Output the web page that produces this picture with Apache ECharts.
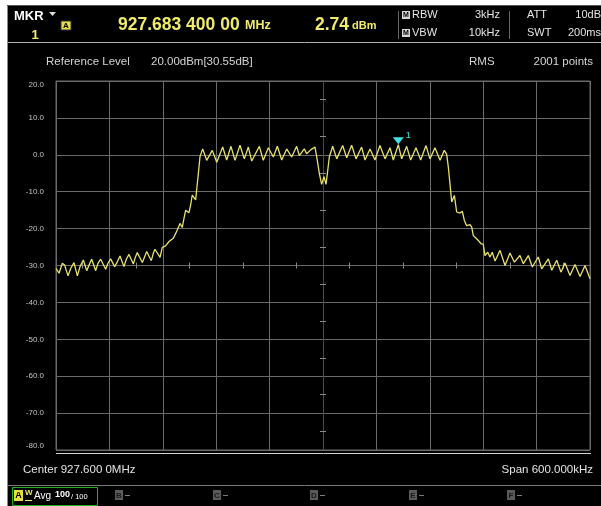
<!DOCTYPE html>
<html>
<head>
<meta charset="utf-8">
<script src="https://cdn.jsdelivr.net/npm/echarts@6/dist/echarts.min.js"></script>
<style>
  html, body { margin: 0; padding: 0; background: #fff; }
  #chart { width: 601px; height: 506px; }
</style>
</head>
<body>
<div id="chart"></div>
<script>
// trace: [offset from centre in kHz, level in dBm]
const lowerSkirt = [
  [-300, -30.8], [-296.6, -32.1], [-292.9, -29.4], [-290.3, -29.9], [-286.5, -32.8], [-283.5, -30.8],
  [-279.8, -29.2], [-276.0, -32.8], [-273.0, -30.3], [-269.3, -28.5], [-265.5, -31.4], [-262.9, -29.9],
  [-259.9, -28.3], [-255.4, -31.4], [-252.8, -29.4], [-249.8, -28.3], [-244.2, -31.0], [-241.6, -29.4],
  [-238.6, -28.2], [-234.1, -30.3], [-231.1, -29.0], [-228.1, -27.4], [-223.6, -30.3], [-221.0, -28.3],
  [-218.0, -27.0], [-213.1, -29.6], [-210.9, -27.8], [-208.7, -26.5], [-203.0, -29.2], [-200.4, -27.6],
  [-198.1, -26.2], [-192.9, -28.7], [-190.7, -26.7], [-188.8, -25.6], [-183.1, -27.8], [-180.6, -25.1],
  [-176.8, -24.7], [-173.0, -23.5], [-171.1, -24.0], [-168.2, -22.6], [-165.5, -21.3], [-162.9, -19.9],
  [-160.7, -18.6], [-158.1, -19.7], [-156.2, -17.2], [-154.3, -15.0], [-152.5, -14.5], [-150.6, -15.7],
  [-148.7, -13.6], [-146.9, -10.9], [-145.0, -10.4], [-143.1, -12.2], [-140.4, -5.9], [-138.2, -0.5]
];
const passBand = [
  [-135.2, 1.6], [-130.7, -1.5], [-124.4, 1.2], [-119.4, -2.0], [-112.7, 2.1], [-108.2, -1.4],
  [-103.4, 2.3], [-98.9, -1.5], [-93.3, 2.6], [-88.4, -1.1], [-83.9, 2.1], [-80.1, -1.7],
  [-71.5, 2.3], [-67.1, -1.5], [-61.4, 1.9], [-55.8, -0.6], [-51.3, 2.3], [-46.4, -1.4],
  [-40.8, 1.6], [-35.2, -0.6], [-29.6, 2.3], [-26.6, -0.2], [-21.0, 1.6], [-18.4, 0.3],
  [-13.5, 1.4], [-9.0, 2.1], [-6.4, -1.5], [-4.1, -5.1], [-1.5, -8.0], [1.1, -5.9],
  [3.4, -8.0], [4.9, -5.1], [7.1, -0.6], [10.9, 2.3], [15.4, -1.1], [22.1, 2.5],
  [26.6, -0.8], [32.2, 2.6], [37.1, -1.1], [43.4, 2.1], [47.2, -1.4], [52.8, 1.6],
  [58.4, -1.4], [64.0, 2.5], [69.7, -1.1], [75.3, 1.9], [79.0, -1.4], [84.6, 2.74],
  [88.4, -1.1], [94.0, 2.3], [98.5, -1.4], [104.5, 1.9], [109.8, -1.4], [115.7, 2.5],
  [120.2, -1.1], [125.8, 1.9], [131.5, -1.5], [136.3, 1.2], [139.0, 0.1]
];
const upperSkirt = [
  [140.8, -3.3], [142.7, -7.9], [144.6, -12.8], [147.6, -11.0], [150.2, -15.5], [153.9, -15.8],
  [156.5, -15.3], [158.8, -17.8], [161.4, -19.2], [165.2, -18.9], [167.1, -19.6], [168.9, -21.9],
  [171.5, -22.5], [174.5, -23.2], [177.5, -24.1], [180.1, -24.3], [182.0, -27.3], [185.1, -26.4],
  [187.6, -27.7], [190.2, -26.4], [193.3, -28.8], [198.9, -25.9], [204.5, -30.0], [210.1, -26.6],
  [215.0, -29.1], [221.3, -27.3], [225.1, -29.5], [230.7, -27.3], [235.2, -30.4], [241.9, -27.7],
  [245.7, -30.9], [253.2, -28.2], [257.0, -31.3], [262.6, -28.6], [267.4, -31.8], [271.9, -29.3],
  [277.5, -32.7], [283.1, -29.7], [288.8, -33.0], [294.4, -30.0], [300, -33.6]
];
const marker1 = [84.6, 2.74];
// ticks on the two centre lines sit half way between grid lines
const centreTicks = [-4.5, -3.5, -2.5, -1.5, -0.5, 0.5, 1.5, 2.5, 3.5, 4.5];

const FONT = 'Liberation Sans, Arial, sans-serif';
const YEL = '#f0ec6a';
const TXT = '#e4e4e4';

function txt(x, y, s, size, fill, opts) {
  opts = opts || {};
  return {
    type: 'text', x: x, y: y, silent: true,
    style: {
      text: s, fill: fill,
      font: (opts.bold ? 'bold ' : '') + size + 'px ' + FONT,
      align: opts.align || 'left', verticalAlign: 'middle'
    }
  };
}
function ln(x1, y1, x2, y2, color) {
  return {type: 'line', silent: true, shape: {x1: x1, y1: y1, x2: x2, y2: y2}, style: {stroke: color, lineWidth: 1}};
}
function box(x, y, w, h, fill, stroke) {
  return {type: 'rect', silent: true, shape: {x: x, y: y, width: w, height: h}, style: {fill: fill, stroke: stroke || null, lineWidth: 1}};
}
function letterBox(x, y, letter, fill, color) {
  return [box(x, y, 8, 10, fill), txt(x + 4, y + 5.5, letter, 8, color, {bold: true, align: 'center'})];
}

const chrome = [
  box(0, 0, 601, 5, '#fff'),
  box(0, 0, 7, 506, '#fff'),
  ln(7.5, 5, 7.5, 506, '#8a8a8a'),
  ln(7, 5.5, 601, 5.5, '#555'),
  ln(8, 42.5, 601, 42.5, '#b0b0b0'),
  // marker block
  txt(14, 16, 'MKR', 13, '#fff', {bold: true}),
  {type: 'polygon', silent: true, shape: {points: [[49, 12], [56, 12], [52.5, 16]]}, style: {fill: '#ddd'}},
  txt(35, 35, '1', 13, YEL, {bold: true, align: 'center'}),
  box(61, 21, 10, 9, '#e8e040', '#333'),
  txt(66, 25.8, 'A', 8, '#000', {bold: true, align: 'center'}),
  txt(118, 25, '927.683 400 00', 17.5, YEL, {bold: true}),
  txt(245, 26, 'MHz', 12.5, YEL, {bold: true}),
  txt(315, 25, '2.74', 17.5, YEL, {bold: true}),
  txt(352, 26, 'dBm', 11, YEL, {bold: true}),
  ln(398.5, 11, 398.5, 39, '#666'),
  ln(509.5, 11, 509.5, 39, '#666'),
  box(402, 11, 8, 8, '#d8d8d8'),
  txt(406, 15.5, 'M', 7, '#000', {bold: true, align: 'center'}),
  box(402, 29, 8, 8, '#d8d8d8'),
  txt(406, 33.5, 'M', 7, '#000', {bold: true, align: 'center'}),
  txt(412, 15, 'RBW', 11, TXT),
  txt(412, 33, 'VBW', 11, TXT),
  txt(500, 15, '3kHz', 11, TXT, {align: 'right'}),
  txt(500, 33, '10kHz', 11, TXT, {align: 'right'}),
  txt(527, 15, 'ATT', 11, TXT),
  txt(527, 33, 'SWT', 11, TXT),
  txt(601, 15, '10dB', 11, TXT, {align: 'right'}),
  txt(601, 33, '200ms', 11, TXT, {align: 'right'}),
  // settings row
  txt(46, 62, 'Reference Level', 11.5, '#d4d4d4'),
  txt(151, 62, '20.00dBm[30.55dB]', 11.5, '#d4d4d4'),
  txt(469, 62, 'RMS', 11.5, '#d4d4d4'),
  txt(593, 62, '2001 points', 11.5, '#d4d4d4', {align: 'right'}),
  // under the plot
  ln(56, 453.5, 591, 453.5, '#cfcfcf'),
  txt(23, 470, 'Center 927.600 0MHz', 11.5, TXT),
  txt(593, 470, 'Span 600.000kHz', 11.5, TXT, {align: 'right'}),
  ln(8, 485.5, 601, 485.5, '#7a7a7a'),
  // trace bar
  box(12.5, 487.5, 85, 18, null, '#22b022'),
  box(14, 490, 9, 11, '#e8e040'),
  txt(18.5, 495.8, 'A', 9, '#000', {bold: true, align: 'center'}),
  txt(25, 493, 'W', 8, YEL, {bold: true}),
  ln(25, 500.5, 32, 500.5, YEL),
  txt(34, 496, 'Avg', 10, '#fff'),
  txt(55, 495, '100', 9, '#fff', {bold: true}),
  txt(71, 497, '/ 100', 7.5, '#fff')
];
[['B', 115], ['C', 213], ['D', 310], ['E', 409], ['F', 507]].forEach(function (b) {
  chrome.push.apply(chrome, letterBox(b[1], 490, b[0], '#5a5a5a', '#1a1a1a'));
  chrome.push(ln(b[1] + 10, 495.5, b[1] + 15, 495.5, '#7a7a7a'));
});

const plotRect = {left: 56, top: 81, width: 534, height: 369};

const option = {
  backgroundColor: '#000',
  animation: false,
  grid: [
    Object.assign({show: true, borderColor: '#6a6a6a', borderWidth: 1, containLabel: false, outerBoundsMode: 'none'}, plotRect),
    Object.assign({show: false, containLabel: false, outerBoundsMode: 'none'}, plotRect)
  ],
  xAxis: [
    {
      type: 'value', gridIndex: 0, min: -300, max: 300, interval: 60,
      axisLine: {show: false}, axisTick: {show: false}, axisLabel: {show: false},
      splitLine: {show: true, lineStyle: {color: '#6a6a6a', width: 1}}
    },
    {
      type: 'value', gridIndex: 1, min: -5, max: 5, position: 'bottom',
      axisLine: {show: true, onZero: true, onZeroAxisIndex: 1, lineStyle: {color: '#6a6a6a'}},
      axisTick: {show: true, customValues: centreTicks, length: 3, lineStyle: {color: '#8a8a8a'}},
      axisLabel: {show: false}, splitLine: {show: false}
    },
    {
      type: 'value', gridIndex: 1, min: -5, max: 5, position: 'top',
      axisLine: {show: false, onZero: true, onZeroAxisIndex: 1},
      axisTick: {show: true, customValues: centreTicks, length: 3, lineStyle: {color: '#8a8a8a'}},
      axisLabel: {show: false}, splitLine: {show: false}
    }
  ],
  yAxis: [
    {
      type: 'value', gridIndex: 0, min: -80, max: 20, interval: 10,
      axisLine: {show: false}, axisTick: {show: false},
      axisLabel: {
        show: true, margin: 12, color: '#c4c4c4', fontSize: 8, fontFamily: FONT,
        formatter: function (v) { return v.toFixed(1); },
        verticalAlignMaxLabel: 'top', verticalAlignMinLabel: 'bottom'
      },
      splitLine: {show: true, lineStyle: {color: '#6a6a6a', width: 1}}
    },
    {
      type: 'value', gridIndex: 1, min: -5, max: 5, position: 'left',
      axisLine: {show: true, onZero: true, onZeroAxisIndex: 1, lineStyle: {color: '#4a4a4a'}},
      axisTick: {show: true, customValues: centreTicks, length: 3, lineStyle: {color: '#8a8a8a'}},
      axisLabel: {show: false}, splitLine: {show: false}
    },
    {
      type: 'value', gridIndex: 1, min: -5, max: 5, position: 'right',
      axisLine: {show: false, onZero: true, onZeroAxisIndex: 1},
      axisTick: {show: true, customValues: centreTicks, length: 3, lineStyle: {color: '#8a8a8a'}},
      axisLabel: {show: false}, splitLine: {show: false}
    }
  ],
  series: [{
    name: 'Trace A',
    type: 'line',
    xAxisIndex: 0, yAxisIndex: 0,
    data: lowerSkirt.concat(passBand, upperSkirt),
    showSymbol: false,
    symbol: 'none',
    lineStyle: {color: '#e8e26a', width: 1.3},
    z: 5,
    markPoint: {
      silent: true,
      symbol: 'triangle',
      symbolRotate: 180,
      symbolSize: [11, 7],
      symbolOffset: [0, -4],
      itemStyle: {color: '#3fe0e6'},
      label: {
        show: true, position: 'right', distance: 2, offset: [0, -5],
        formatter: '1', color: '#3fe0e6', fontSize: 9, fontFamily: FONT
      },
      data: [{coord: marker1}]
    }
  }],
  graphic: chrome
};

const chart = echarts.init(document.getElementById('chart'), null, {renderer: 'canvas'});
chart.setOption(option);
</script>
</body>
</html>
